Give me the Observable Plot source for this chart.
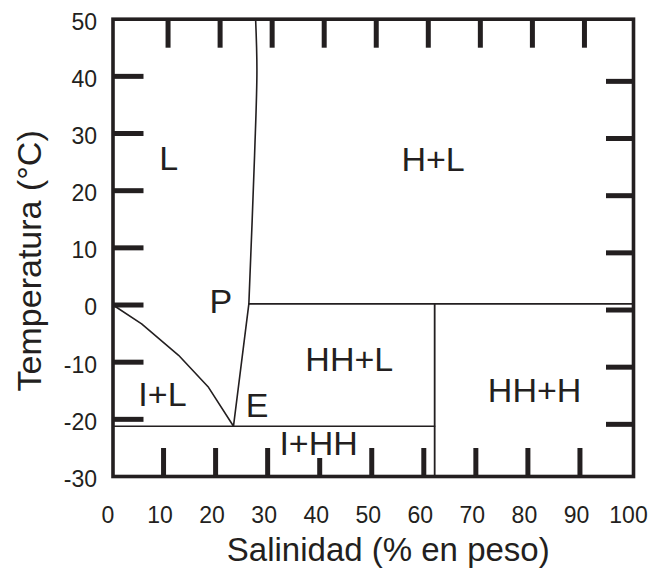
<!DOCTYPE html>
<html>
<head>
<meta charset="utf-8">
<script src="https://cdn.jsdelivr.net/npm/d3@7"></script>
<script src="https://cdn.jsdelivr.net/npm/@observablehq/plot@0.6"></script>
<style>
  html, body { margin: 0; padding: 0; background: #fff; }
  #chart svg { display: block; }
</style>
</head>
<body>
<div id="chart"></div>
<script>
// Ice liquidus (I+L / L boundary)
const iceX = [0, 5.5, 12.6, 18.35, 23.15];
const iceT = [0, -3.3, -8.8, -14.4, -21.2];
// Hydrohalite liquidus (E -> P)
const hhX = [23.15, 26.1];
const hhT = [-21.2, 0.2];
// Halite liquidus (P -> top)
const haliteX = [26.1, 27.2, 27.65, 27.4];
const haliteT = [0.2, 26.2, 41, 50];
// Eutectic isotherm
const eutecticX = [0, 61.8];
const eutecticT = [-21.2, -21.2];
// Peritectic isotherm
const peritecticX = [26.1, 100];
const peritecticT = [0.2, 0.2];
// Hydrohalite composition line
const hhCompX = [61.8, 61.8];
const hhCompT = [0.2, -30];

// Phase field labels
const labels = ["L", "H+L", "P", "HH+L", "I+L", "E", "I+HH", "HH+H"];
const labelX = [10.7, 61.5, 20.7, 45.4, 9.5, 27.7, 39.5, 81.0];
const labelT = [25.6, 25.3, 0.5, -9.6, -15.7, -17.6, -24.4, -15.0];

// Tick values / labels
const xTickLabels = [0, 10, 20, 30, 40, 50, 60, 70, 80, 90, 100];
const yTickLabels = [-30, -20, -10, 0, 10, 20, 30, 40, 50];
const xInnerTicks = [10, 20, 30, 50, 60, 70, 80, 90];
const xShortTicks = [40];
const xTopTicks = [10, 20, 30, 40, 50, 60, 70, 80, 90];
const yInnerTicks = [-20, -10, 0, 10, 20, 30, 40];

const xTitle = "Salinidad (% en peso)";
const yTitle = "Temperatura (°C)";

const ink = "#231f20";
const font = "'Liberation Sans', Arial, Helvetica, sans-serif";

const seg = (xs, ts) => xs.map((x, i) => ({x, t: ts[i]}));

const chart = Plot.plot({
  width: 650,
  height: 569,
  marginLeft: 112.5,
  marginRight: 17,
  marginTop: 18.7,
  marginBottom: 93,
  style: {fontFamily: font, color: ink, background: "#fff", overflow: "visible"},
  x: {domain: [0, 100], label: null},
  y: {domain: [-30, 50], label: null},
  marks: [
    // phase boundaries
    Plot.line(seg(iceX, iceT), {x: "x", y: "t", stroke: ink, strokeWidth: 1.6}),
    Plot.line(seg(hhX, hhT), {x: "x", y: "t", stroke: ink, strokeWidth: 1.6}),
    Plot.line(seg(haliteX, haliteT), {x: "x", y: "t", stroke: ink, strokeWidth: 1.6, curve: "catmull-rom"}),
    Plot.line(seg(eutecticX, eutecticT), {x: "x", y: "t", stroke: ink, strokeWidth: 1.6}),
    Plot.line(seg(peritecticX, peritecticT), {x: "x", y: "t", stroke: ink, strokeWidth: 1.6}),
    Plot.line(seg(hhCompX, hhCompT), {x: "x", y: "t", stroke: ink, strokeWidth: 1.8}),
    // inward ticks
    Plot.axisY(yInnerTicks, {anchor: "left", tickSize: -31, strokeWidth: 5, stroke: ink, tickFormat: () => "", label: null}),
    Plot.axisY(yInnerTicks, {anchor: "right", tickSize: -28, strokeWidth: 5, stroke: ink, dy: 5, tickFormat: () => "", label: null}),
    Plot.axisX(xTopTicks, {anchor: "top", tickSize: -28, strokeWidth: 5, stroke: ink, dx: 3, tickFormat: () => "", label: null}),
    Plot.axisX(xInnerTicks, {anchor: "bottom", tickSize: -28, strokeWidth: 5, stroke: ink, dx: -1.5, tickFormat: () => "", label: null}),
    Plot.axisX(xShortTicks, {anchor: "bottom", tickSize: -18, strokeWidth: 5, stroke: ink, dx: -1.5, tickFormat: () => "", label: null}),
    // tick labels
    Plot.axisY(yTickLabels, {anchor: "left", tickSize: 0, tickPadding: 16, dy: 3, fontSize: 23, fill: ink, label: null, tickFormat: d => String(d)}),
    Plot.axisX(xTickLabels, {anchor: "bottom", tickSize: 0, tickPadding: 30, dx: -5, fontSize: 23, fill: ink, label: null, tickFormat: d => String(d)}),
    // frame
    Plot.frame({stroke: ink, strokeWidth: 3.6}),
    // phase labels
    Plot.text(labels, {x: (d, i) => labelX[i], y: (d, i) => labelT[i], text: d => d, fontSize: 34, fill: ink}),
    // axis titles
    Plot.text([xTitle], {frameAnchor: "bottom", textAnchor: "middle", lineAnchor: "middle", text: d => d, dx: 15, dy: 74, fontSize: 33, fill: ink}),
    Plot.text([yTitle], {frameAnchor: "left", textAnchor: "middle", lineAnchor: "middle", text: d => d, rotate: -90, dx: -83, dy: 13, fontSize: 34, fill: ink})
  ]
});

document.getElementById("chart").appendChild(chart);
</script>
</body>
</html>
